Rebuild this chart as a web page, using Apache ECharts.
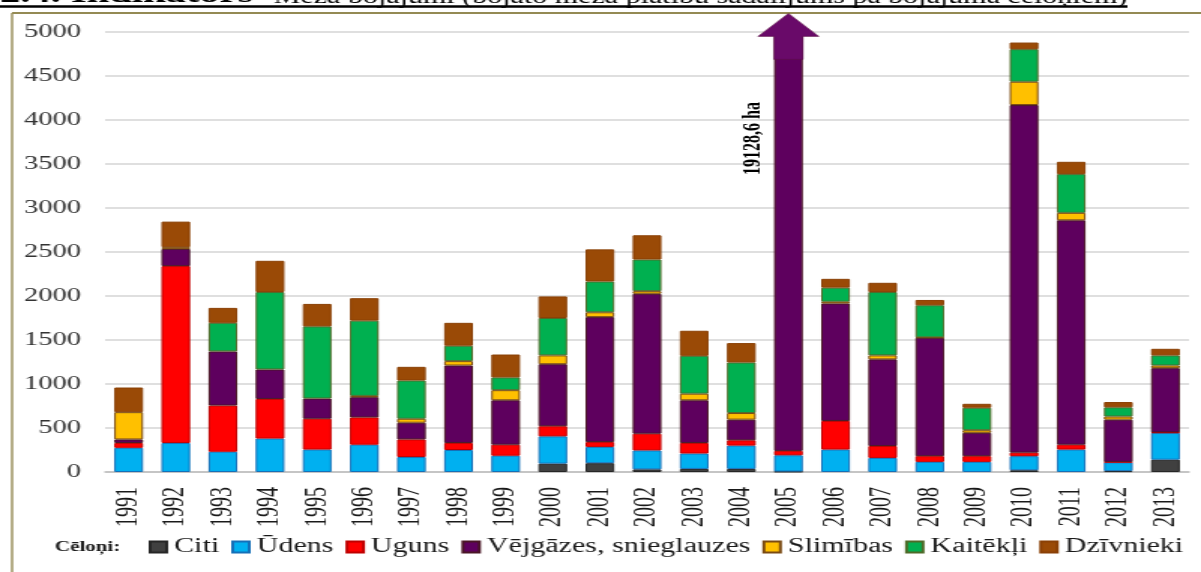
<!DOCTYPE html>
<html>
<head>
<meta charset="utf-8">
<script src="https://cdn.jsdelivr.net/npm/echarts@6/dist/echarts.min.js"></script>
<style>
  html, body { margin: 0; padding: 0; background: #fff; overflow: hidden; }
  #chart { width: 800px; height: 572px; transform: scaleX(1.50125); transform-origin: 0 0; }
</style>
</head>
<body>
<div id="chart"></div>
<script>
// Bojāto meža platību sadalījums pa bojājuma cēloņiem, ha
const years = ['1991','1992','1993','1994','1995','1996','1997','1998','1999','2000','2001','2002',
               '2003','2004','2005','2006','2007','2008','2009','2010','2011','2012','2013'];
const citi      = [0,0,0,0,0,0,0,0,0,95,100,30,35,35,5,0,0,0,0,20,0,10,140];
const udens     = [275,330,230,380,255,310,170,250,185,310,185,215,175,265,185,255,160,115,115,160,255,100,305];
const uguns     = [55,2010,525,450,350,310,200,80,125,115,55,190,120,60,50,325,135,65,65,40,55,5,5];
const vejgazes  = [40,195,615,335,230,230,190,880,505,705,1420,1590,485,235,18888.6,1335,985,1345,265,3950,2550,480,730];
const slimibas  = [310,20,0,0,0,15,45,50,115,100,55,30,75,75,0,20,45,5,30,265,85,35,30];
const kaitekli  = [0,0,325,880,820,855,435,175,145,425,350,360,430,575,0,160,720,365,255,370,440,105,115];
const dzivnieki = [280,290,170,355,255,255,155,260,260,245,365,275,285,220,0,100,105,60,45,75,140,60,75];
const yTicks = { min: 0, max: 5000, interval: 500 };
const titleText = '2.4. Indikators';
const titleRest = 'Meža bojājumi (bojāto meža platību sadalījums pa bojājuma cēloņiem)';
const legendLead = 'Cēloņi:';
const bigYear = '2005';

const SERIF = 'Liberation Serif';
const seriesDefs = [
  { name: 'Citi', data: citi, color: '#404040', border: '#262626' },
  { name: 'Ūdens', data: udens, color: '#00b0f0', border: '#1570b8' },
  { name: 'Uguns', data: uguns, color: '#ff0000', border: '#c00000' },
  { name: 'Vējgāzes, snieglauzes', data: vejgazes, color: '#5e005e', border: '#4a1626' },
  { name: 'Slimības', data: slimibas, color: '#ffc000', border: '#7a4a12' },
  { name: 'Kaitēkļi', data: kaitekli, color: '#00b050', border: '#4f6a28' },
  { name: 'Dzīvnieki', data: dzivnieki, color: '#9a4a06', border: '#8a4006' }
];

const bigIdx = years.indexOf(bigYear);
const bigTotal = seriesDefs.reduce((s, d) => s + d.data[bigIdx], 0);
const bigLabel = (Math.round(bigTotal * 10) / 10).toFixed(1).replace('.', ',') + ' ha';

const series = seriesDefs.map((d) => {
  const s = {
    name: d.name,
    type: 'bar',
    stack: 'total',
    barWidth: '61%',
    data: d.data.map(v => (v === 0 ? null : v)),
    itemStyle: { color: d.color, borderColor: d.border, borderWidth: 1 },
    emphasis: { disabled: true }
  };
  if (d.name === 'Vējgāzes, snieglauzes') {
    s.markPoint = {
      silent: true,
      data: [
        {
          // arrow marking the off-scale 2005 bar
          coord: [bigYear, 4950],
          symbol: 'path://M30.5,0 L61,23 L45,23 L45,46 L16,46 L16,23 L0,23 Z',
          symbolSize: [40.6, 46],
          symbolKeepAspect: false,
          itemStyle: { color: '#690a69', borderColor: '#5a1040', borderWidth: 0.5 },
          label: { show: false }
        },
        {
          coord: [bigYear, 3790],
          symbol: 'rect',
          symbolSize: 1,
          itemStyle: { color: 'transparent' },
          label: {
            show: true,
            position: 'inside',
            rotate: 90,
            offset: [0, -23],
            formatter: () => bigLabel,
            fontFamily: SERIF,
            fontWeight: 'bold',
            fontSize: 16,
            color: '#000'
          }
        }
      ]
    };
  }
  return s;
});

const chart = echarts.init(document.getElementById('chart'), null, { renderer: 'canvas' });
chart.setOption({
  animation: false,
  backgroundColor: '#ffffff',
  grid: { left: 70, right: 8, top: 32, bottom: 100, containLabel: false },
  legend: {
    left: 99,
    top: 537,
    width: 700,
    padding: 0,
    itemWidth: 11,
    itemHeight: 11,
    itemGap: 8,
    icon: 'rect',
    textStyle: { fontFamily: SERIF, fontSize: 20, color: '#1a1a1a' },
    data: seriesDefs.map(d => d.name)
  },
  xAxis: {
    type: 'category',
    data: years,
    axisTick: { show: false },
    axisLine: { lineStyle: { color: '#bdbdbd', width: 1.5 } },
    axisLabel: { rotate: 90, margin: 15, fontFamily: SERIF, fontSize: 20, color: '#1a1a1a' }
  },
  yAxis: {
    type: 'value',
    min: yTicks.min,
    max: yTicks.max,
    interval: yTicks.interval,
    axisLine: { show: false },
    axisTick: { show: false },
    splitLine: { lineStyle: { color: '#d4d4d4', width: 1.5 } },
    axisLabel: {
      margin: 16, fontFamily: SERIF, fontSize: 19, color: '#333',
      formatter: (v) => String(v)
    }
  },
  graphic: [
    {
      type: 'text',
      x: 0, y: 9,
      style: {
        text: titleText,
        align: 'left',
        verticalAlign: 'bottom',
        font: 'bold 27px "Liberation Serif"',
        fill: '#000'
      }
    },
    {
      type: 'text',
      x: 751, y: 7.7,
      style: {
        text: titleRest,
        align: 'right',
        verticalAlign: 'bottom',
        font: '20px "Liberation Serif"',
        fill: '#000'
      }
    },
    { type: 'line', shape: { x1: 0, y1: 6.5, x2: 751, y2: 6.5 }, style: { stroke: '#000', lineWidth: 2.4 } },
    { type: 'line', shape: { x1: 8, y1: 13, x2: 800, y2: 13 }, style: { stroke: '#948a54', lineWidth: 2 } },
    { type: 'line', shape: { x1: 8, y1: 13, x2: 8, y2: 572 }, style: { stroke: '#948a54', lineWidth: 1.4 } },
    {
      type: 'text',
      x: 36.6, y: 547,
      style: {
        text: legendLead,
        verticalAlign: 'middle',
        font: 'bold 14px "Liberation Serif"',
        fill: '#1a1a1a'
      }
    }
  ],
  series: series
});
</script>
</body>
</html>
